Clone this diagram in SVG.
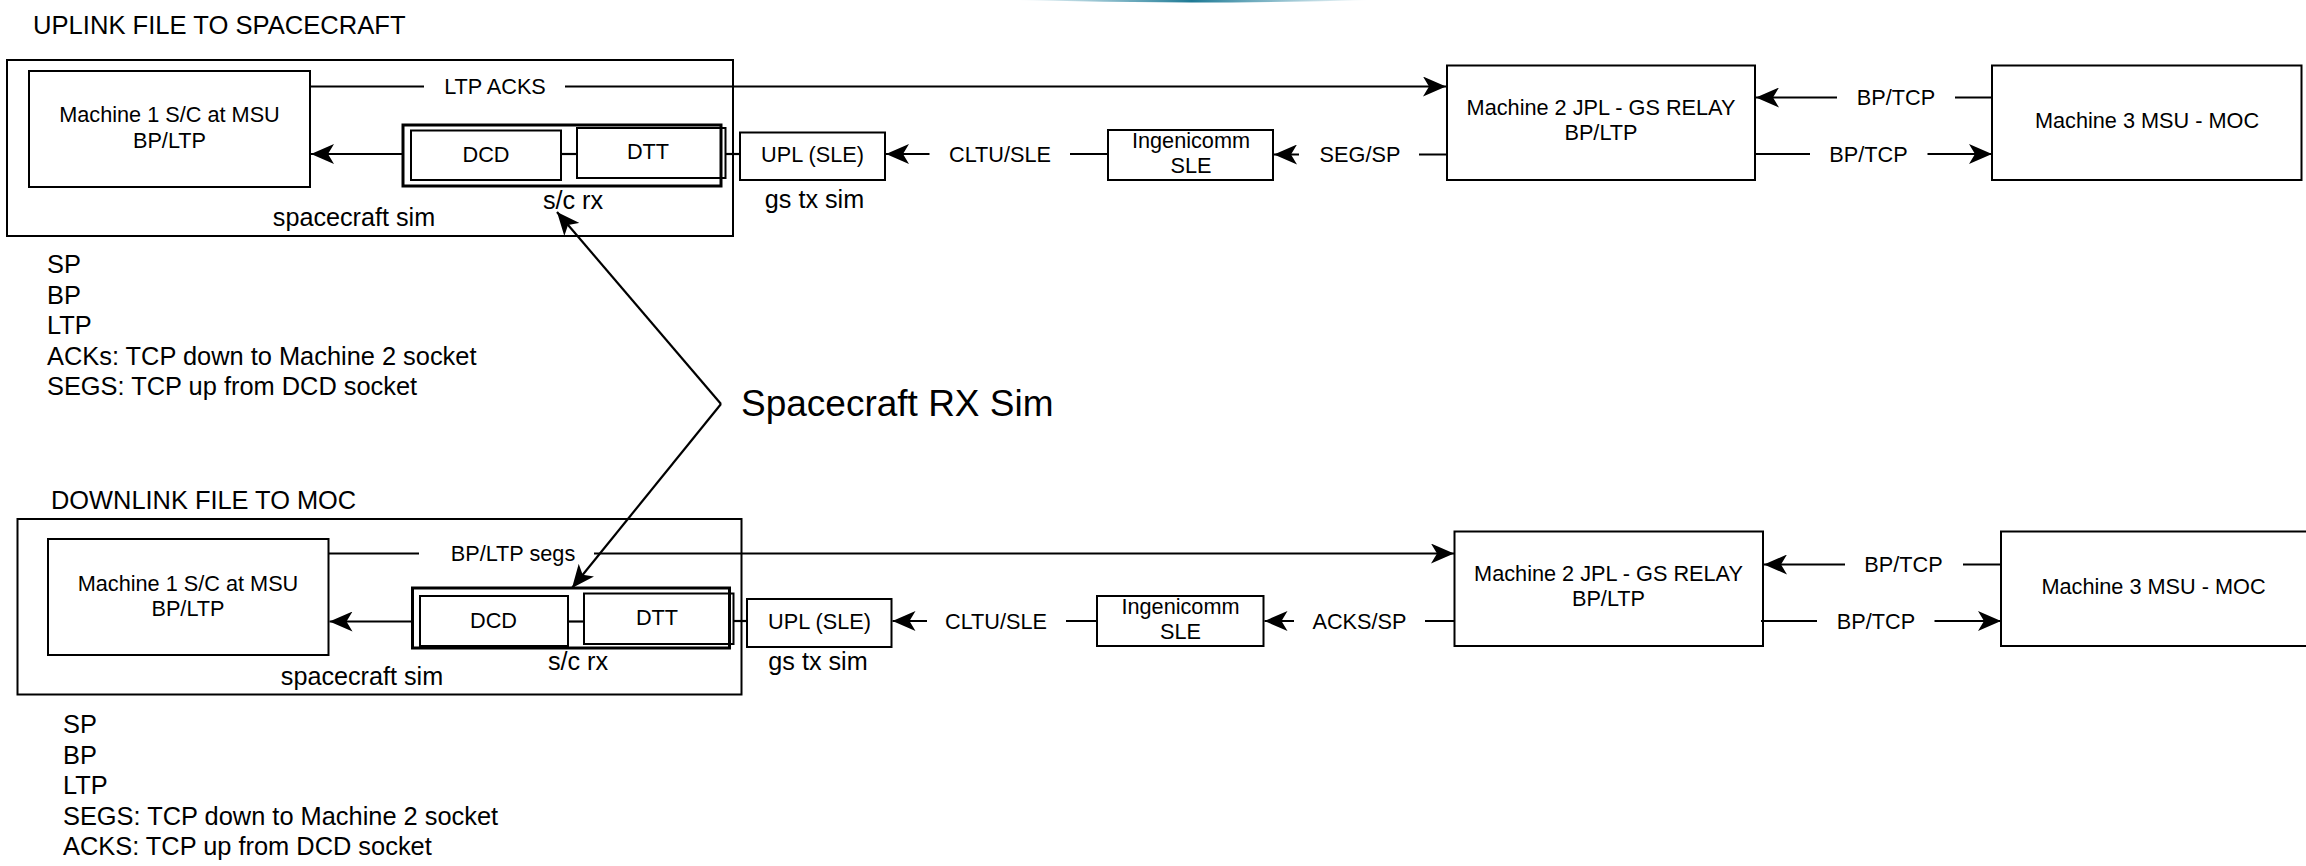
<svg xmlns="http://www.w3.org/2000/svg" width="2306" height="866" viewBox="0 0 2306 866">
<defs>
<style>
.box{fill:#fff;stroke:#000;stroke-width:2}
.inner{fill:none;stroke:#000;stroke-width:2}
.thick{fill:#fff;stroke:#000;stroke-width:3}
.edge{fill:none;stroke:#000;stroke-width:2.2}
text{font-family:"Liberation Sans",Arial,Helvetica,sans-serif;fill:#000}
.t{font-size:21.7px;text-anchor:middle}
.l{font-size:25.2px;text-anchor:middle}
.s{font-size:25.4px;text-anchor:start}
.big{font-size:37px;text-anchor:start}
</style>
<marker id="arr" markerUnits="userSpaceOnUse" markerWidth="25" markerHeight="20" refX="23" refY="10" orient="auto" viewBox="0 0 25 20">
<path d="M0,0 L23,10 L0,20 L6,10 Z" fill="#000"/>
</marker>
<linearGradient id="teal" x1="0" y1="0" x2="1" y2="0">
<stop offset="0" stop-color="#2a8aa8" stop-opacity="0"/>
<stop offset="0.5" stop-color="#1f7a95" stop-opacity="1"/>
<stop offset="1" stop-color="#2a8aa8" stop-opacity="0"/>
</linearGradient>
</defs>
<rect width="2306" height="866" fill="#fff"/>
<path d="M1013,0 Q1191,5 1370,0 Z" fill="url(#teal)"/>

<!-- ===== UPLINK ===== -->
<text class="s" x="33" y="34" style="font-size:25.6px">UPLINK FILE TO SPACECRAFT</text>
<g id="up-spacecraft-sim">
<rect class="box" x="7" y="60" width="726" height="176"/>
<text class="l" x="354" y="226">spacecraft sim</text>
</g>
<g id="up-machine1">
<rect class="box" x="29" y="71" width="281" height="116"/>
<text class="t" x="169.5" y="122">Machine 1 S/C at MSU</text>
<text class="t" x="169.5" y="147.5">BP/LTP</text>
</g>
<g id="up-scrx">
<rect class="thick" x="403" y="125" width="318" height="61"/>
<text class="l" x="573" y="208.5">s/c rx</text>
</g>
<g id="up-dcd">
<rect class="inner" x="411" y="130.5" width="150" height="49.5"/>
<text class="t" x="486" y="161.5">DCD</text>
</g>
<g id="up-dtt">
<rect class="inner" x="577" y="128" width="148.5" height="50"/>
<text class="t" x="648" y="159">DTT</text>
</g>
<g id="up-upl">
<rect class="box" x="740" y="132.5" width="145" height="47.5"/>
<text class="t" x="812.5" y="162">UPL (SLE)</text>
<text class="l" x="814.5" y="208">gs tx sim</text>
</g>
<g id="up-ingenicomm">
<rect class="box" x="1108" y="130" width="165" height="50"/>
<text class="t" x="1191" y="147.5">Ingenicomm</text>
<text class="t" x="1191" y="172.5">SLE</text>
</g>
<g id="up-machine2">
<rect class="box" x="1447" y="65.5" width="308" height="114.5"/>
<text class="t" x="1601" y="115">Machine 2 JPL - GS RELAY</text>
<text class="t" x="1601" y="140">BP/LTP</text>
</g>
<g id="up-machine3">
<rect class="box" x="1992" y="65.5" width="309.5" height="114.5"/>
<text class="t" x="2147" y="128">Machine 3 MSU - MOC</text>
</g>
<g id="up-notes">
<text class="s" x="47" y="273">SP</text>
<text class="s" x="47" y="303.5">BP</text>
<text class="s" x="47" y="334">LTP</text>
<text class="s" x="47" y="364.5">ACKs: TCP down to Machine 2 socket</text>
<text class="s" x="47" y="395">SEGS: TCP up from DCD socket</text>
</g>

<!-- ===== DOWNLINK ===== -->
<text class="s" x="51" y="509">DOWNLINK FILE TO MOC</text>
<g id="dn-spacecraft-sim">
<rect class="box" x="17.5" y="519" width="724" height="175.5"/>
<text class="l" x="362" y="685">spacecraft sim</text>
</g>
<g id="dn-machine1">
<rect class="box" x="48" y="539" width="280.5" height="116"/>
<text class="t" x="188" y="590.5">Machine 1 S/C at MSU</text>
<text class="t" x="188" y="616">BP/LTP</text>
</g>
<g id="dn-scrx">
<rect class="thick" x="412.5" y="588" width="317" height="60"/>
<text class="l" x="578" y="670">s/c rx</text>
</g>
<g id="dn-dcd">
<rect class="inner" x="420" y="596" width="148" height="50"/>
<text class="t" x="493.5" y="628">DCD</text>
</g>
<g id="dn-dtt">
<rect class="inner" x="584" y="593.5" width="149.5" height="50.5"/>
<text class="t" x="657" y="625">DTT</text>
</g>
<g id="dn-upl">
<rect class="box" x="747" y="599" width="144.5" height="48"/>
<text class="t" x="819.5" y="628.5">UPL (SLE)</text>
<text class="l" x="818" y="670">gs tx sim</text>
</g>
<g id="dn-ingenicomm">
<rect class="box" x="1097" y="596" width="166.5" height="50"/>
<text class="t" x="1180.5" y="614">Ingenicomm</text>
<text class="t" x="1180.5" y="639">SLE</text>
</g>
<g id="dn-machine2">
<rect class="box" x="1454.5" y="531.5" width="308.5" height="114.5"/>
<text class="t" x="1608.5" y="581">Machine 2 JPL - GS RELAY</text>
<text class="t" x="1608.5" y="606">BP/LTP</text>
</g>
<g id="dn-machine3">
<rect class="box" x="2001" y="531.5" width="320" height="114.5"/>
<text class="t" x="2153.5" y="594">Machine 3 MSU - MOC</text>
</g>
<g id="dn-notes">
<text class="s" x="63" y="733">SP</text>
<text class="s" x="63" y="763.5">BP</text>
<text class="s" x="63" y="794">LTP</text>
<text class="s" x="63" y="824.5">SEGS: TCP down to Machine 2 socket</text>
<text class="s" x="63" y="855">ACKS: TCP up from DCD socket</text>
</g>

<g id="callout">
<text class="big" x="741" y="416">Spacecraft RX Sim</text>
</g>

<!-- ===== CONNECTORS ===== -->
<g id="connectors">
<!-- uplink -->
<path class="edge" d="M310,86.5H424M565,86.5H1446" marker-end="url(#arr)"/>
<text class="t" x="495" y="94">LTP ACKS</text>
<path class="edge" d="M403,154H311" marker-end="url(#arr)"/>
<path class="edge" d="M561,154H577"/>
<path class="edge" d="M725.5,154H740"/>
<path class="edge" d="M1108,154H1070M929.5,154H886" marker-end="url(#arr)"/>
<text class="t" x="1000" y="161.5">CLTU/SLE</text>
<path class="edge" d="M1447,154.5H1419M1299,154.5H1274" marker-end="url(#arr)"/>
<text class="t" x="1360" y="162">SEG/SP</text>
<path class="edge" d="M1992,97.5H1955M1837,97.5H1756" marker-end="url(#arr)"/>
<text class="t" x="1896" y="105">BP/TCP</text>
<path class="edge" d="M1754,154H1810M1927.5,154H1992" marker-end="url(#arr)"/>
<text class="t" x="1868.5" y="161.5">BP/TCP</text>
<!-- downlink -->
<path class="edge" d="M328.5,553.5H419M594,553.5H1454" marker-end="url(#arr)"/>
<text class="t" x="513" y="561">BP/LTP segs</text>
<path class="edge" d="M412.5,621.5H329.5" marker-end="url(#arr)"/>
<path class="edge" d="M568,621.5H584"/>
<path class="edge" d="M733.5,621H747"/>
<path class="edge" d="M1097,621H1066M927,621H892.5" marker-end="url(#arr)"/>
<text class="t" x="996" y="628.5">CLTU/SLE</text>
<path class="edge" d="M1454.5,621H1425M1294,621H1264.5" marker-end="url(#arr)"/>
<text class="t" x="1359.5" y="628.5">ACKS/SP</text>
<path class="edge" d="M2001,564.5H1963M1845,564.5H1764" marker-end="url(#arr)"/>
<text class="t" x="1903.5" y="572">BP/TCP</text>
<path class="edge" d="M1761,621H1817M1934.5,621H2001" marker-end="url(#arr)"/>
<text class="t" x="1876" y="628.5">BP/TCP</text>
<!-- callout -->
<path class="edge" d="M721,404L557,212" marker-end="url(#arr)"/>
<path class="edge" d="M721,404L572,588" marker-end="url(#arr)"/>
</g>
</svg>
